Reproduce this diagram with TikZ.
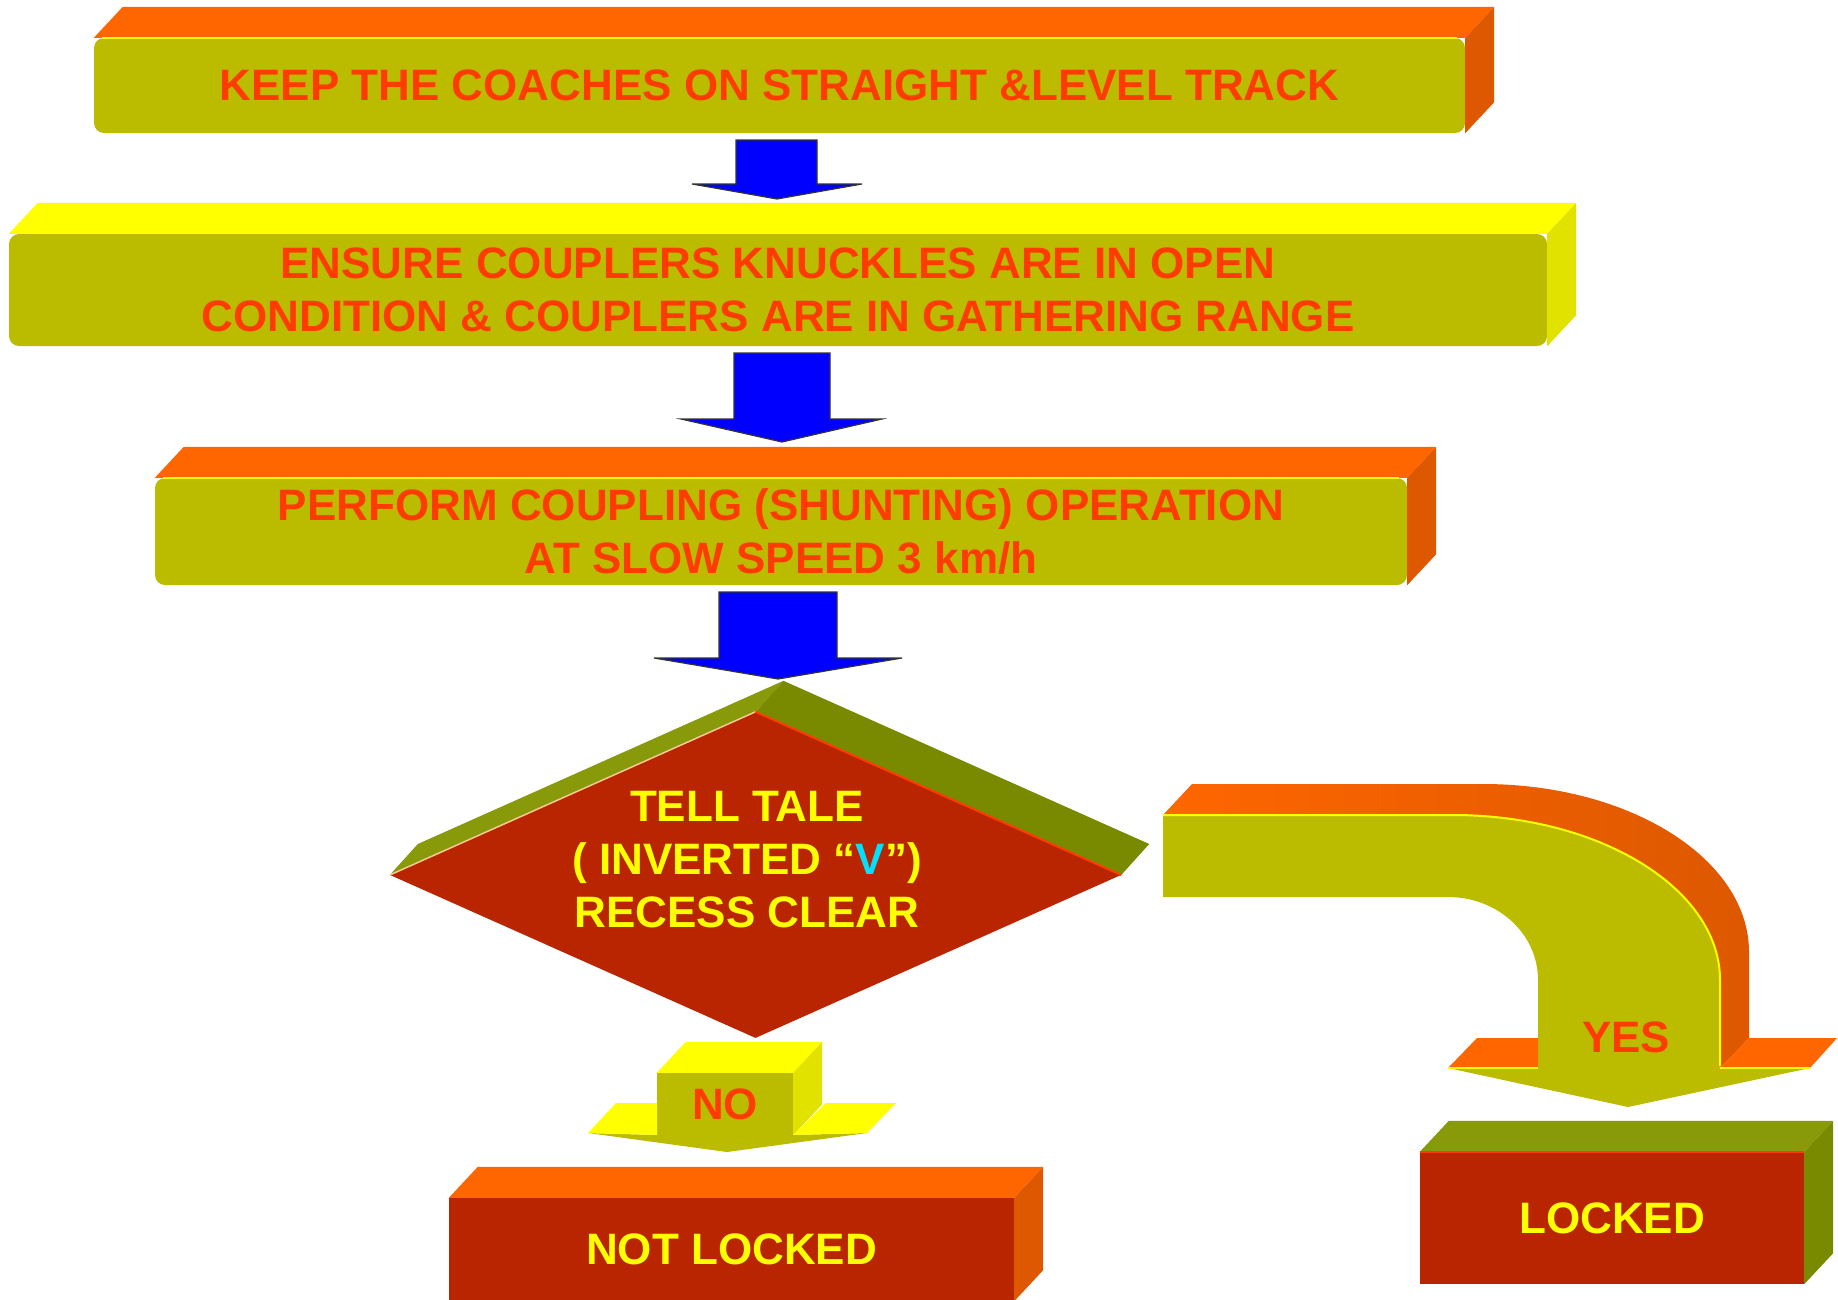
\documentclass[tikz,border=0pt]{standalone}
\usepackage{fontspec}
\setmainfont{Liberation Sans}
\usetikzlibrary{shapes.geometric}

\definecolor{olivefront}{RGB}{187,187,0}
\definecolor{orangetop}{RGB}{255,102,0}
\definecolor{orangeside}{RGB}{221,88,0}
\definecolor{yellowtop}{RGB}{255,255,0}
\definecolor{yellowside}{RGB}{226,226,0}
\definecolor{brick}{RGB}{184,37,0}
\definecolor{olivelight}{RGB}{136,154,10}
\definecolor{olivedark}{RGB}{122,138,0}
\definecolor{peach}{RGB}{250,200,150}
\definecolor{tred}{RGB}{255,60,0}
\definecolor{vcyan}{RGB}{0,225,255}

\begin{document}
\begin{tikzpicture}[x=1pt, y=-1pt,
  face/.style={rectangle, inner sep=0pt, font=\fontsize{44}{53}\selectfont\bfseries, align=center},
  stepface/.style={face, fill=olivefront, text=tred, rounded corners=10pt},
  endface/.style={face, fill=brick, text=yellowtop},
  blk/.style={fill=blue, draw=black!80, line width=1.2pt},
  edge/.style={line width=2pt}]
  \useasboundingbox (0,0) rectangle (1838,1299);

  % front faces of the steps
  \node[stepface, minimum width=1371pt, minimum height=95pt] (keep) at (779.5,85.5)
    {KEEP THE COACHES ON STRAIGHT \&LEVEL TRACK};
  \node[stepface, minimum width=1538pt, minimum height=112pt] (ensure) at (778,290)
    {ENSURE COUPLERS KNUCKLES ARE IN OPEN\\CONDITION \& COUPLERS ARE IN GATHERING RANGE};
  \node[stepface, minimum width=1252pt, minimum height=107pt] (perform) at (781,531.5)
    {PERFORM COUPLING (SHUNTING) OPERATION\\AT SLOW SPEED 3 km/h};
  \node[endface, minimum width=565pt, minimum height=103pt] (notlocked) at (731.5,1249.5) {NOT LOCKED};
  \node[endface, minimum width=384pt, minimum height=132pt] (locked) at (1612,1218) {LOCKED};
  \node[face, fill=olivefront, text=tred, minimum width=136pt, minimum height=62pt] (noshaft) at (725,1104) {NO};

  % top and side faces
  \foreach \b/\tc/\sc in {keep/orangetop/orangeside, ensure/yellowtop/yellowside,
      perform/orangetop/orangeside, notlocked/orangetop/orangeside,
      locked/olivelight/olivedark, noshaft/yellowtop/yellowside} {
    \fill[\tc] (\b.north west) -- ++(29,-31) -- ([shift={(29,-31)}]\b.north east) -- (\b.north east) -- cycle;
    \fill[\sc] (\b.north east) -- ++(29,-31) -- ([shift={(29,-31)}]\b.south east) -- (\b.south east) -- cycle;
  }
  \draw[yellowtop, edge] ([xshift=8pt]keep.north west) -- ([xshift=-8pt]keep.north east);
  \draw[yellowtop, edge] ([xshift=8pt]perform.north west) -- ([xshift=-8pt]perform.north east);
  \draw[tred, edge] (locked.north west) -- (locked.north east);

  % blue arrows
  \draw[blk] (736,140) -- (817,140) -- (817,184) -- (862,184) -- (777,199) -- (692,184) -- (736,184) -- cycle;
  \draw[blk] (734,353) -- (830,353) -- (830,419) -- (882,419) -- (782,442) -- (681,419) -- (734,419) -- cycle;
  \draw[blk] (719,592) -- (837,592) -- (837,658) -- (902,658) -- (778,679) -- (654,658) -- (719,658) -- cycle;

  % decision
  \node[diamond, fill=brick, minimum width=731pt, minimum height=326pt, inner sep=0pt] (tell) at (755.5,875) {};
  \fill[olivelight] (tell.west) -- ++(28,-31) -- ([shift={(28,-31)}]tell.north) -- (tell.north) -- cycle;
  \fill[olivedark] (tell.north) -- ++(28,-31) -- ([shift={(28,-31)}]tell.east) -- (tell.east) -- cycle;
  \draw[peach, line width=1.5pt] (tell.west) -- (tell.north);
  \draw[tred, edge] (tell.north) -- (tell.east);
  \node[face, text=yellowtop] (tellq) at (747,860)
    {TELL TALE\\( INVERTED “\textcolor{vcyan}{V}”)\\RECESS CLEAR};

  % no arrow head
  \fill[olivefront] (588,1133) -- (657,1135) -- (793,1135) -- (867,1133) -- (727,1152) -- cycle;
  \fill[yellowtop] (588,1133) -- (616,1103) -- (657,1103) -- (657,1135) -- cycle;
  \fill[yellowtop] (793,1135) -- (826,1103) -- (896,1103) -- (867,1133) -- cycle;

  % yes arrow
  \shade[left color=orangetop, right color=orangeside] (1163,815) -- (1192,784) -- (1483,784)
    .. controls (1630,784) and (1749,859) .. (1749,952) -- (1749,1038) -- (1720,1068) -- (1720,980)
    .. controls (1720,889) and (1600,815) .. (1453,815) -- cycle;
  \fill[olivefront] (1163,815) -- (1453,815) .. controls (1600,815) and (1720,889) .. (1720,980)
    -- (1720,1068) -- (1810,1068) -- (1628,1107) -- (1448,1068) -- (1538,1068) -- (1538,980)
    .. controls (1538,934) and (1498,897) .. (1448,897) -- (1163,897) -- cycle;
  \fill[orangetop] (1448,1068) -- (1477,1038) -- (1538,1038) -- (1538,1068) -- cycle;
  \fill[orangetop] (1720,1068) -- (1749,1038) -- (1837,1038) -- (1810,1068) -- cycle;
  \draw[yellowtop, edge] (1163,815) -- (1453,815) .. controls (1600,815) and (1720,889) .. (1720,980) -- (1720,1066);
  \draw[yellowtop, edge] (1448,1068) -- (1538,1068) (1720,1068) -- (1810,1068);
  \node[face, text=tred] (yes) at (1626,1037) {YES};
\end{tikzpicture}
\end{document}
